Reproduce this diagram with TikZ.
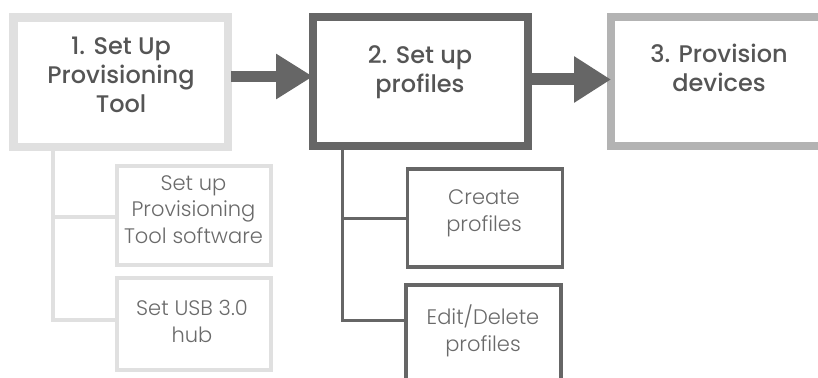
\documentclass[tikz,border=0pt]{standalone}
\usepackage{fontspec}
\usetikzlibrary{arrows.meta}
\IfFontExistsTF{Poppins Medium}{\newfontfamily\titlefont{Poppins Medium}}{\newfontfamily\titlefont{Poppins}}
\IfFontExistsTF{Poppins Light}{\newfontfamily\subfont{Poppins Light}}{\newfontfamily\subfont{Poppins}}
\definecolor{lgray}{HTML}{E0E0E0}
\definecolor{dgray}{HTML}{666666}
\definecolor{mgray}{HTML}{B3B3B3}
\definecolor{tgray}{HTML}{555555}
\definecolor{sgray}{HTML}{6A6A6A}
\tikzset{
  bigbox/.style={draw, line width=8pt, inner sep=0pt, outer sep=0pt},
  smallbox/.style={draw, line width=4pt, inner sep=0pt, outer sep=0pt},
  titletext/.style={align=center, inner sep=0pt, text=tgray, font=\titlefont\fontsize{24}{29}\selectfont, anchor=base},
  subtext/.style={align=center, inner sep=0pt, text=sgray, font=\subfont\fontsize{21}{26.5}\selectfont, anchor=base},
  bigarrow/.style={draw=dgray, line width=11pt, -{Triangle[length=37pt,width=43pt]}}
}
\begin{document}
\begin{tikzpicture}[x=1pt,y=-1pt]
\useasboundingbox (0,0) rectangle (818,377);
\begin{scope}
\clip (0,0) rectangle (818,377);
% main boxes
\node[bigbox, draw=lgray, line width=8.5pt, minimum width=214.5pt, minimum height=129.5pt] (b1) at (120.75,82.25) {};
\node[bigbox, draw=dgray, minimum width=215pt, minimum height=128pt] (b2) at (420.5,81.5) {};
\node[bigbox, draw=mgray, minimum width=216pt, minimum height=128.5pt] (b3) at (719,81.25) {};
% sub boxes
\node[smallbox, draw=lgray, minimum width=154pt, minimum height=98.5pt] (sa) at (194,215.25) {};
\node[smallbox, draw=lgray, minimum width=153.5pt, minimum height=91.5pt] (sb) at (193.75,323.75) {};
\node[smallbox, draw=dgray, line width=3.5pt, minimum width=155pt, minimum height=98pt] (sc) at (485,218) {};
\node[smallbox, draw=dgray, line width=3.5pt, minimum width=155pt, minimum height=98pt] (sd) at (483.5,334) {};
% texts (anchor = baseline of last line)
\node[titletext] (t1) at (121,113) {1. Set Up\\Provisioning\\Tool};
\node[titletext] (t2) at (420,93) {2. Set up\\profiles};
\node[titletext] (t3) at (719,92) {3. Provision\\devices};
\node[subtext] (ta) at (193.5,243) {Set up\\Provisioning\\Tool software};
\node[subtext] (tb) at (192,342) {Set USB 3.0\\hub};
\node[subtext] (tc) at (484,231) {Create\\profiles};
\node[subtext] (td) at (483,351) {Edit/Delete\\profiles};
% tree connectors
\coordinate (l0) at (52.5,151);
\coordinate (l1) at (52.5,217);
\coordinate (l2) at (52.5,320);
\draw[lgray, line width=4pt] (l0) -- (l2) -- (l2 -| sb.west);
\draw[lgray, line width=4pt] (l1) -- (l1 -| sa.west);
\coordinate (r0) at (342.5,149);
\coordinate (r1) at (342.5,218.5);
\coordinate (r2) at (342.5,320.5);
\draw[dgray, line width=3.5pt] (r0) -- (r2) -- (r2 -| sd.west);
\draw[dgray, line width=3.5pt] (r1) -- (r1 -| sc.west);
% arrows
\draw[bigarrow] ([xshift=3pt,yshift=5.75pt]b1.east) -- ([yshift=5pt]b2.west);
\draw[bigarrow, line width=12pt, -{Triangle[length=37pt,width=44pt]}] ([xshift=2pt,yshift=2pt]b2.east) -- ([yshift=1.75pt]b3.west);
\end{scope}
\end{tikzpicture}
\end{document}
